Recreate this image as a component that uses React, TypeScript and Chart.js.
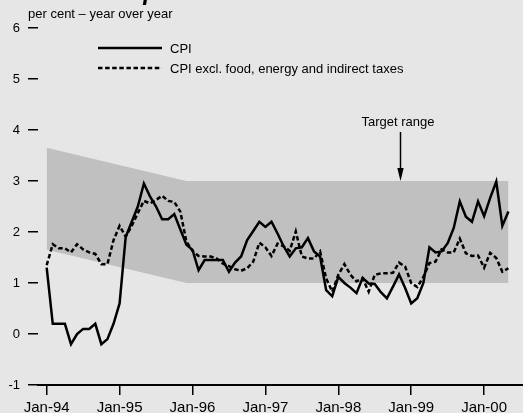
import React, { useEffect, useRef } from 'react';
import { Chart, registerables } from 'chart.js';

Chart.register(...registerables);

const TITLE = 'Consumer price index';
const SUBTITLE = 'per cent \u2013 year over year';
const SERIES_NAMES = ['CPI', 'CPI excl. food, energy and indirect taxes'];
const TARGET_LABEL = 'Target range';

// month index 0 = Jan-94 ... 76 = May-00
const CPI = [
  1.3, 0.2, 0.2, 0.2, -0.2, 0.0, 0.1, 0.1, 0.2, -0.2, -0.1, 0.2,
  0.6, 1.9, 2.2, 2.5, 2.95, 2.7, 2.5, 2.25, 2.25, 2.35, 2.05, 1.75,
  1.65, 1.25, 1.45, 1.45, 1.45, 1.45, 1.22, 1.4, 1.52, 1.84, 2.02, 2.2,
  2.1, 2.2, 1.97, 1.72, 1.52, 1.68, 1.7, 1.88, 1.62, 1.52, 0.86, 0.74,
  1.12, 1.0, 0.91, 0.8, 1.1, 0.99, 0.98, 0.82, 0.7, 0.93, 1.17, 0.9,
  0.6, 0.7, 1.0, 1.7, 1.6, 1.62, 1.78, 2.08, 2.6, 2.3, 2.2, 2.6,
  2.31, 2.67, 2.99, 2.12, 2.4,
];
const CPIX = [
  1.35, 1.76, 1.68, 1.68, 1.6, 1.76, 1.66, 1.6, 1.57, 1.37, 1.37, 1.84,
  2.12, 1.91, 2.12, 2.37, 2.61, 2.56, 2.63, 2.71, 2.61, 2.59, 2.4, 1.81,
  1.63, 1.53, 1.52, 1.52, 1.48, 1.38, 1.33, 1.27, 1.24, 1.29, 1.42, 1.79,
  1.7, 1.53, 1.77, 1.72, 1.63, 2.01, 1.52, 1.48, 1.48, 1.62, 1.09, 0.83,
  1.16, 1.37, 1.16, 1.03, 1.09, 0.83, 1.16, 1.19, 1.19, 1.2, 1.4, 1.32,
  1.0, 0.92, 1.12, 1.39, 1.42, 1.66, 1.6, 1.6, 1.87, 1.58, 1.53, 1.54,
  1.3, 1.59, 1.49, 1.22, 1.29,
];

const BAND_MONTHS = [0, 23, 76];
const BAND_UPPER = [3.65, 3, 3];
const BAND_LOWER = [1.65, 1, 1];

const TICK_MONTHS = [0, 12, 24, 36, 48, 60, 72];
const TICK_LABELS = ['Jan-94', 'Jan-95', 'Jan-96', 'Jan-97', 'Jan-98', 'Jan-99', 'Jan-00'];

const ARROW_MONTH = 58.2;
const ARROW_VALUE = 3;

const FONT = '"Liberation Sans", Arial, Helvetica, sans-serif';

const toPoints = (vals: number[], xs?: number[]) =>
  vals.map((v, i) => ({ x: xs ? xs[i] : i, y: v }));

const annotations = {
  id: 'annotations',
  afterDraw(chart: any) {
    const { ctx } = chart;
    const xs = chart.scales.x;
    const ys = chart.scales.y;
    ctx.save();
    ctx.fillStyle = '#000';
    ctx.strokeStyle = '#000';
    ctx.font = `13px ${FONT}`;
    ctx.textAlign = 'left';
    ctx.textBaseline = 'alphabetic';
    ctx.fillText(SUBTITLE, 28, 18);

    // legend
    const rows = [48, 68];
    chart.data.datasets.slice(0, 2).forEach((ds: any, i: number) => {
      ctx.save();
      ctx.lineWidth = ds.borderWidth;
      ctx.setLineDash(ds.borderDash || []);
      ctx.beginPath();
      ctx.moveTo(98, rows[i]);
      ctx.lineTo(162, rows[i]);
      ctx.stroke();
      ctx.restore();
      ctx.textBaseline = 'middle';
      ctx.fillText(ds.label, 170, rows[i] + 1);
    });

    // target range arrow
    const px = Math.round(xs.getPixelForValue(ARROW_MONTH)) + 0.5;
    const tip = ys.getPixelForValue(ARROW_VALUE);
    ctx.lineWidth = 1.5;
    ctx.beginPath();
    ctx.moveTo(px, tip - 49);
    ctx.lineTo(px, tip - 10);
    ctx.stroke();
    ctx.beginPath();
    ctx.moveTo(px - 3.2, tip - 13);
    ctx.lineTo(px + 3.2, tip - 13);
    ctx.lineTo(px, tip);
    ctx.closePath();
    ctx.fill();
    ctx.textAlign = 'center';
    ctx.textBaseline = 'alphabetic';
    ctx.fillText(TARGET_LABEL, px - 2.5, tip - 55);
    ctx.restore();
  },
};

export default function App() {
  const ref = useRef<HTMLCanvasElement>(null);

  useEffect(() => {
    if (!ref.current) return;
    Chart.defaults.font.family = FONT;
    const chart = new Chart(ref.current, {
      type: 'line',
      data: {
        datasets: [
          {
            label: SERIES_NAMES[0],
            data: toPoints(CPI),
            borderColor: '#000',
            borderWidth: 2.5,
            pointRadius: 0,
            tension: 0,
            fill: false,
            order: 1,
          },
          {
            label: SERIES_NAMES[1],
            data: toPoints(CPIX),
            borderColor: '#000',
            borderWidth: 2.5,
            borderDash: [4.5, 2.6],
            pointRadius: 0,
            tension: 0,
            fill: false,
            order: 2,
          },
          {
            label: 'lower',
            data: toPoints(BAND_LOWER, BAND_MONTHS),
            borderWidth: 0,
            borderColor: 'rgba(0,0,0,0)',
            pointRadius: 0,
            fill: false,
            order: 4,
          },
          {
            label: 'upper',
            data: toPoints(BAND_UPPER, BAND_MONTHS),
            borderWidth: 0,
            borderColor: 'rgba(0,0,0,0)',
            backgroundColor: '#c0c0c0',
            pointRadius: 0,
            fill: 2,
            order: 3,
          },
        ],
      },
      options: {
        animation: false,
        responsive: false,
        devicePixelRatio: 1,
        layout: { padding: { top: 28, left: 0, right: 0, bottom: 0 } },
        plugins: {
          legend: { display: false },
          tooltip: { enabled: false },
          title: { display: false },
        },
        scales: {
          x: {
            type: 'linear',
            min: -1.43,
            max: 78.4,
            afterFit: (s: any) => {
              s.height = 28;
            },
            afterBuildTicks: (s: any) => {
              s.ticks = TICK_MONTHS.map((v) => ({ value: v }));
            },
            border: { display: true, color: '#000', width: 2 },
            grid: {
              display: true,
              drawOnChartArea: false,
              drawTicks: true,
              tickLength: 10,
              color: '#000',
              lineWidth: 1.5,
            },
            ticks: {
              autoSkip: false,
              maxRotation: 0,
              padding: 4,
              color: '#000',
              font: { size: 15 },
              callback: (v: any) => {
                const i = TICK_MONTHS.indexOf(Number(v));
                return i >= 0 ? TICK_LABELS[i] : '';
              },
            },
          },
          y: {
            min: -1,
            max: 6,
            afterFit: (s: any) => {
              s.width = 38;
            },
            border: { display: false },
            grid: {
              display: true,
              drawOnChartArea: false,
              drawTicks: true,
              tickLength: 10,
              color: '#000',
              lineWidth: 1.5,
            },
            ticks: {
              stepSize: 1,
              padding: 8,
              color: '#000',
              font: { size: 13 },
            },
          },
        },
      },
      plugins: [annotations],
    } as any);
    return () => chart.destroy();
  }, []);

  return (
    <div
      style={{
        position: 'absolute',
        left: 0,
        top: 0,
        width: 523,
        height: 413,
        background: '#e6e6e6',
        overflow: 'hidden',
      }}
    >
      <div
        style={{
          position: 'absolute',
          left: 18,
          top: -20,
          fontFamily: FONT,
          fontWeight: 'bold',
          fontStyle: 'italic',
          fontSize: 24,
          lineHeight: '24px',
          whiteSpace: 'nowrap',
          color: '#000',
        }}
      >
        {TITLE}
      </div>
      <canvas ref={ref} width={523} height={413} style={{ display: 'block' }} />
    </div>
  );
}
